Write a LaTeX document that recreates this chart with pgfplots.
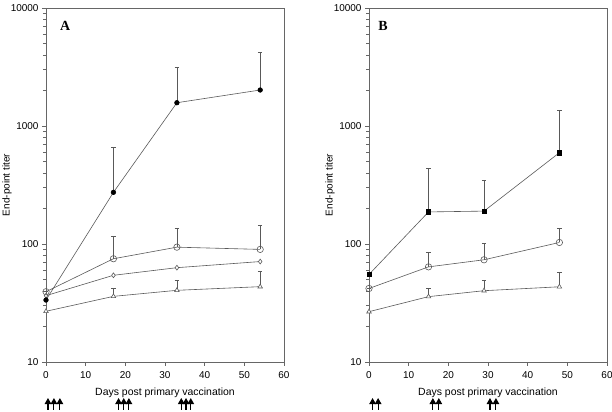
\documentclass[border=0pt]{standalone}
\usepackage{pgfplots}
\pgfplotsset{compat=1.18}
\usepackage{fontspec}
\setmainfont{Liberation Sans}
\newfontfamily\panelfont{Liberation Serif}
\usetikzlibrary{arrows.meta}
\definecolor{ln}{gray}{0.35}
\definecolor{fr}{gray}{0.4}
\tikzset{varr/.style={line width=1.1pt, -{Triangle[width=6.5pt,length=6pt]}}}
\pgfplotsset{
  every axis/.append style={
    scale only axis, width=238bp, height=354bp,
    ymin=10, ymax=10000, xmin=0, xmax=60,
    xtick={0,10,20,30,40,50,60}, ytick={10,100,1000,10000},
    yticklabels={10,100,1000,10000},
    minor ytick={20,30,40,50,60,70,80,90,200,300,400,500,600,700,800,900,2000,3000,4000,5000,6000,7000,8000,9000},
    xtick pos=left, ytick pos=left, tick align=outside,
    major tick length=4bp, minor tick length=3bp,
    axis line style={fr, line width=0.6pt},
    tick style={fr, line width=0.6pt},
    minor tick style={fr, line width=0.6pt},
    tick label style={font=\fontsize{10}{12}\selectfont},
    xticklabel style={yshift=-2bp},
    label style={font=\fontsize{10.5}{12}\selectfont},
    /pgf/number format/assume math mode=true,
    xlabel={Days post primary vaccination},
    ylabel={End-point titer},
    xlabel style={yshift=-3bp},
    every axis y label/.style={at={(axis description cs:0,0.5)}, rotate=90, anchor=center, yshift=39bp},
    clip=false,
  },
  ser/.style={ln, line width=0.6pt,
    error bars/y dir=plus, error bars/y explicit,
    error bars/error mark=-,
    error bars/error mark options={line width=0.5pt, mark size=2.2bp, rotate=90, ln},
    error bars/error bar style={line width=0.5pt, ln}},
  fc/.style={ser, mark=*, mark size=2.3bp, mark options={fill=black, draw=black}},
  oc/.style={ser, mark=o, mark size=3.2bp, mark options={fill=white, draw=ln}},
  od/.style={ln, line width=0.6pt, mark=diamond*, mark size=2.4bp, mark options={fill=white, draw=ln}},
  tr/.style={ser, mark=triangle*, mark size=2.6bp, mark options={fill=white, draw=ln}},
}
\begin{document}
\begin{tikzpicture}
\useasboundingbox (-46bp,-50bp) rectangle (566bp,362bp);
\begin{semilogyaxis}
\addplot[tr] coordinates {(0,26.9) +- (0,0) (17,36) +- (0,6.4) (33,40.5) +- (0,8.7) (54,43.5) +- (0,14.7)};
\addplot[od] coordinates {(0,36.5) (17,54.3) (33,63) (54,71)};
\addplot[oc] coordinates {(0,39.4) +- (0,0) (17,75) +- (0,41) (33,94) +- (0,43) (54,90) +- (0,53)};
\addplot[fc] coordinates {(0,33.5) +- (0,0) (17,274) +- (0,390) (33,1575) +- (0,1590) (54,2018) +- (0,2195)};
\node[font=\panelfont\bfseries\fontsize{14}{16}\selectfont] at (rel axis cs:0.08,0.949) {A};
\pgfplotsinvokeforeach{0.5,2,3.5,18.3,19.6,20.9,34.1,35.3,36.5}{
  \draw[varr] (axis cs:#1,3.92) -- (axis cs:#1,4.95);
}
\end{semilogyaxis}
\begin{semilogyaxis}[xshift=323bp]
\addplot[tr] coordinates {(0,26.7) +- (0,0) (15,35.8) +- (0,6.2) (29,40.2) +- (0,8.8) (48,43.4) +- (0,14.3)};
\addplot[oc] coordinates {(0,42) +- (0,0) (15,64) +- (0,20.7) (29,73.5) +- (0,28.5) (48,103) +- (0,32)};
\addplot[fc,mark=square*,mark size=2.2bp] coordinates {(0,55.2) +- (0,0) (15,187) +- (0,248) (29,190) +- (0,159) (48,594) +- (0,772)};
\node[font=\panelfont\bfseries\fontsize{14}{16}\selectfont] at (rel axis cs:0.059,0.949) {B};
\pgfplotsinvokeforeach{0.9,2.3,16.1,17.6,30.5,32}{
  \draw[varr] (axis cs:#1,3.92) -- (axis cs:#1,4.95);
}
\end{semilogyaxis}
\end{tikzpicture}
\end{document}
